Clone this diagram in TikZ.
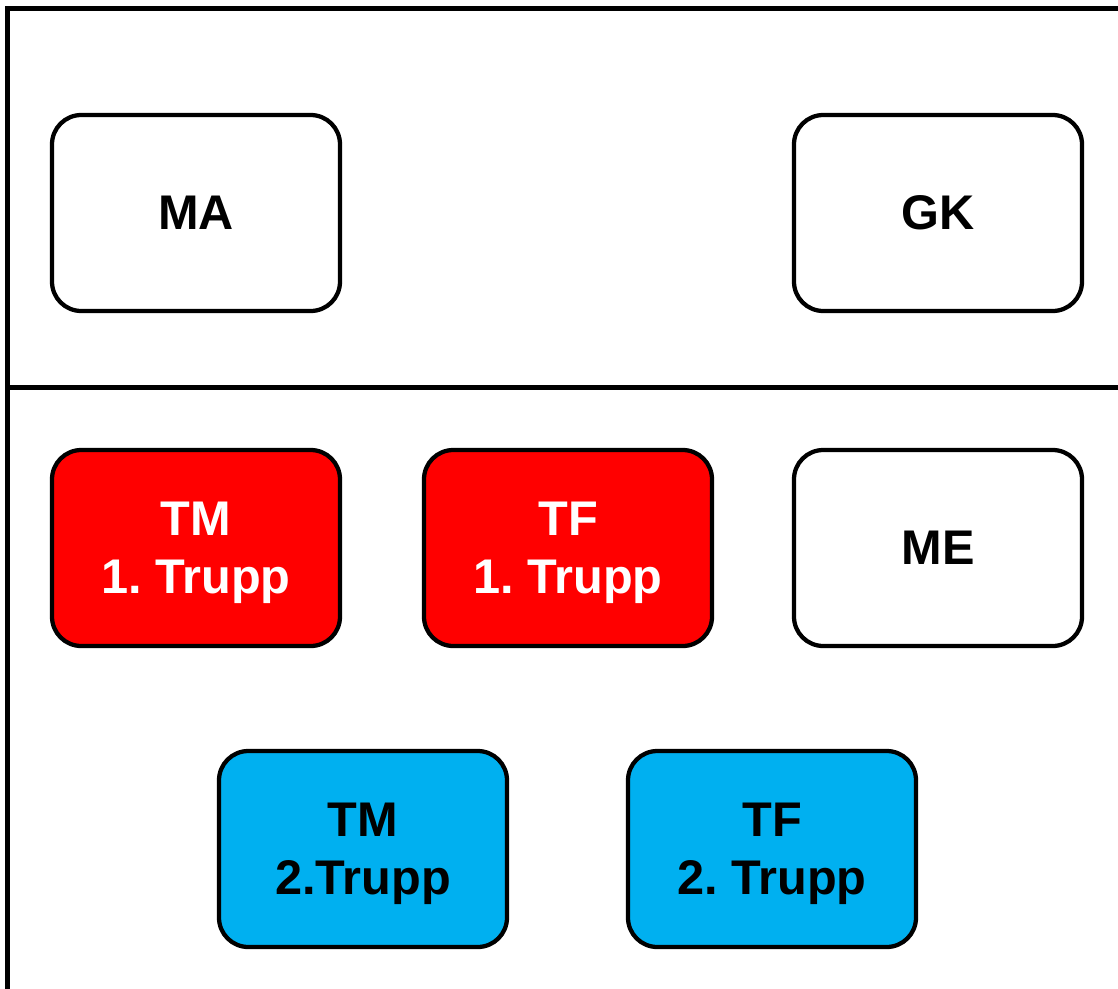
\documentclass[tikz,border=0pt]{standalone}
\usepackage{fontspec}
\setmainfont{Liberation Sans}
\frenchspacing
\definecolor{boxred}{HTML}{FF0000}
\definecolor{boxblue}{HTML}{00B0F0}
\begin{document}
\begin{tikzpicture}[x=0.75pt,y=-0.75pt,
  frame/.style={line width=3.75pt},
  unit/.style={draw=black, line width=3.2pt, rounded corners=22pt, rectangle,
    minimum width=216pt, minimum height=147pt, align=center, inner sep=0pt,
    text depth=0pt,
    font=\fontsize{36.5}{43.5}\selectfont\bfseries\frenchspacing},
  plain/.style={unit, fill=white, text=black},
  first/.style={unit, fill=boxred, text=white},
  second/.style={unit, fill=boxblue, text=black}]
\useasboundingbox (0,0) rectangle (1118,989);
\clip (0,0) rectangle (1118,989);
\fill[white] (0,0) rectangle (1118,989);
\coordinate (fbl) at (7.5,1000);
\coordinate (ftl) at (7.5,8.5);
\coordinate (ftr) at (1130,8.5);
\coordinate (dl) at (7.5,387);
\coordinate (dr) at (1130,387);
\draw[frame] (fbl) -- (ftl) -- (ftr);
\draw[frame] (dl) -- (dr);
\node[plain] (MA) at (196,213) {MA};
\node[plain] (GK) at (938,213) {GK};
\node[first] (TM1) at (196,548) {TM\\1. Trupp};
\node[first] (TF1) at (568,548) {TF\\1. Trupp};
\node[plain] (ME) at (938,548) {ME};
\node[second] (TM2) at (363,849) {TM\\2.Trupp};
\node[second] (TF2) at (772,849) {TF\\2. Trupp};
\end{tikzpicture}
\end{document}
